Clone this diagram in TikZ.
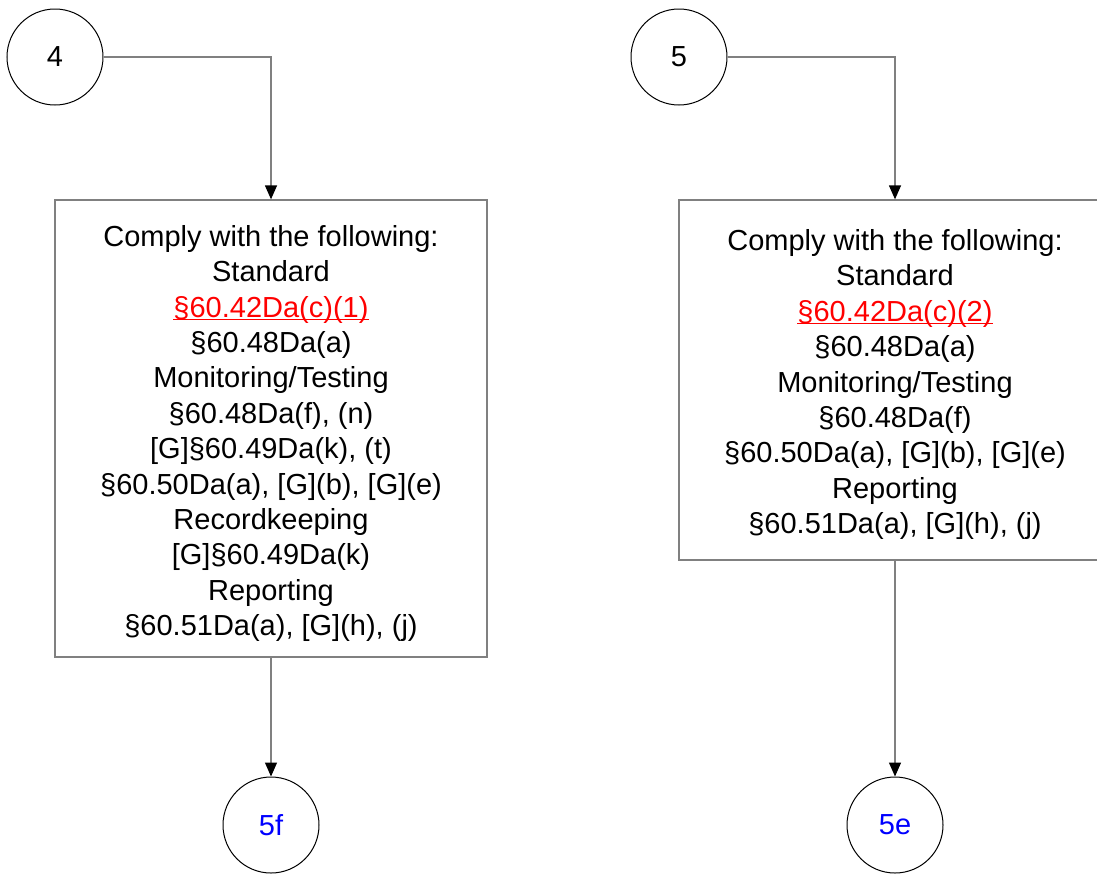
\documentclass[tikz,border=0pt]{standalone}
\usepackage{fontspec}
\setmainfont{Liberation Sans}
\usetikzlibrary{arrows.meta}
\definecolor{linegray}{RGB}{128,128,128}
\definecolor{refred}{RGB}{255,0,0}
\definecolor{refblue}{RGB}{0,0,255}
\newsavebox{\citebox}
\newcommand{\refcite}[1]{\textcolor{refred}{\sbox{\citebox}{#1}\rlap{\rule[-3.2pt]{\wd\citebox}{1.4pt}}\usebox{\citebox}}}

\begin{document}
\begin{tikzpicture}[x=1pt,y=-1pt,font=\fontsize{29}{35.4}\selectfont]
      \useasboundingbox (0,0) rectangle (1097,873);
      \begin{scope}[every node/.style={circle,draw=black,line width=1pt,minimum size=96pt,inner sep=0pt}]
        \node (C4) at (55,57) {4};
        \node (C5) at (679,57) {5};
        \node (C5f) at (271,825) {\textcolor{refblue}{5f}};
        \node (C5e) at (895,825) {\textcolor{refblue}{5e}};
      \end{scope}
      \begin{scope}[every node/.style={rectangle,draw=linegray,line width=1.3pt,align=center,minimum width=432pt,inner sep=0pt}]
        \node (B4) [minimum height=457pt] at (271,428.5) {\rule{0pt}{31pt}Comply with the following:\\
          Standard\\
          \refcite{§60.42Da(c)(1)}\\
          §60.48Da(a)\\
          Monitoring/Testing\\
          §60.48Da(f), (n)\\
          {[G]}§60.49Da(k), (t)\\
          §60.50Da(a), [G](b), [G](e)\\
          Recordkeeping\\
          {[G]}§60.49Da(k)\\
          Reporting\\
          §60.51Da(a), [G](h), (j)};
        \node (B5) [minimum height=360pt] at (895,380) {\rule{0pt}{30pt}Comply with the following:\\
          Standard\\
          \refcite{§60.42Da(c)(2)}\\
          §60.48Da(a)\\
          Monitoring/Testing\\
          §60.48Da(f)\\
          §60.50Da(a), [G](b), [G](e)\\
          Reporting\\
          §60.51Da(a), [G](h), (j)};
      \end{scope}
      \begin{scope}[draw=linegray,line width=1.3pt,
        -{Triangle[length=14pt,width=12pt,color=black]}]
        \draw (C4) -| (B4);
        \draw (C5) -| (B5);
        \draw (B4) -- (C5f);
        \draw (B5) -- (C5e);
      \end{scope}
    \end{tikzpicture}
\end{document}
